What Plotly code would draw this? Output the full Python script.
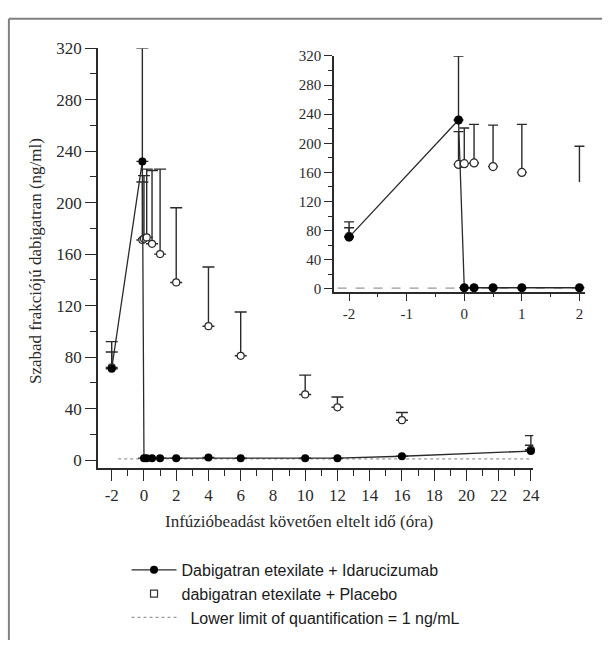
import plotly.graph_objects as go

# ---- data ----
time_h = [-2, -0.1, 0, 0.17, 0.5, 1, 2, 4, 6, 10, 12, 16, 24]
ida_mean = [71, 232, 1.5, 1.5, 1.5, 1.5, 1.5, 2, 1.5, 1.5, 1.5, 3, 7]
ida_upper = [84, 320, 1.5, 1.5, 1.5, 1.5, 1.5, 2, 1.5, 1.5, 1.5, 3, 11.5]
pla_mean = [72, 171, 172, 173, 168, 160, 138, 104, 81, 51, 41, 31, 8]
pla_upper = [92, 216, 221, 226, 225, 226, 196, 150, 115, 66, 49, 37, 19]
lloq = 1

x_ticks_main = list(range(-2, 25, 2))
y_ticks = list(range(0, 321, 40))
x_ticks_inset = [-2, -1, 0, 1, 2]

name_ida = "Dabigatran etexilate + Idarucizumab"
name_pla = "dabigatran etexilate + Placebo"
name_lloq = "\u00a0\u00a0Lower limit of quantification = 1 ng/mL"

W, H = 609, 645
INK = "#2a2a2a"
SERIF = "Liberation Serif"
SANS = "Liberation Sans"


def px_x(p):
    return p / W


def px_y(p):
    return 1 - p / H


fig = go.Figure()

# LLOQ dotted reference lines
fig.add_trace(go.Scatter(
    x=[-1.6, 24], y=[lloq, lloq], mode="lines", name=name_lloq,
    line=dict(color="#9a9a9a", width=1.3, dash="dot"), showlegend=True,
    xaxis="x", yaxis="y"))
fig.add_trace(go.Scatter(
    x=[-2.2, 2], y=[lloq, lloq], mode="lines", showlegend=False,
    line=dict(color="#9a9a9a", width=1.2, dash="dash"),
    xaxis="x2", yaxis="y2"))

# ---- main panel ----
fig.add_trace(go.Scatter(
    x=time_h, y=pla_mean, mode="markers", showlegend=False,
    xaxis="x", yaxis="y", cliponaxis=False,
    marker=dict(symbol="circle", size=7, color="white", line=dict(color=INK, width=1.2)),
    error_y=dict(type="data", symmetric=False,
                 array=[u - v for u, v in zip(pla_upper, pla_mean)],
                 arrayminus=[0] * len(time_h), color=INK, thickness=1.4, width=6)))
fig.add_trace(go.Scatter(
    x=time_h, y=ida_mean, mode="lines+markers", name=name_ida,
    xaxis="x", yaxis="y", cliponaxis=False,
    line=dict(color=INK, width=1.3),
    marker=dict(symbol="circle", size=8, color="black"),
    error_y=dict(type="data", symmetric=False,
                 array=[u - v for u, v in zip(ida_upper, ida_mean)],
                 arrayminus=[0] * len(time_h), color=INK, thickness=1.4, width=6)))

# ---- inset panel (first 2 h) ----
sel = [i for i, t in enumerate(time_h) if t <= 2]
sel_pla = [i for i, t in enumerate(time_h) if t <= 1]
i2 = time_h.index(2)
fig.add_trace(go.Scatter(
    x=[time_h[i] for i in sel_pla], y=[pla_mean[i] for i in sel_pla],
    mode="markers", showlegend=False, xaxis="x2", yaxis="y2", cliponaxis=False,
    marker=dict(symbol="circle", size=8, color="white", line=dict(color=INK, width=1.2)),
    error_y=dict(type="data", symmetric=False,
                 array=[pla_upper[i] - pla_mean[i] for i in sel_pla],
                 arrayminus=[0] * len(sel_pla), color=INK, thickness=1.4, width=5)))
fig.add_trace(go.Scatter(
    x=[time_h[i2]], y=[pla_mean[i2]], mode="markers", showlegend=False,
    xaxis="x2", yaxis="y2", cliponaxis=False,
    marker=dict(symbol="circle", size=13, color="white", line=dict(width=0)),
    error_y=dict(type="data", symmetric=False, array=[pla_upper[i2] - pla_mean[i2]],
                 arrayminus=[0], color=INK, thickness=1.4, width=5)))
fig.add_trace(go.Scatter(
    x=[time_h[i] for i in sel], y=[ida_mean[i] for i in sel],
    mode="lines+markers", showlegend=False, xaxis="x2", yaxis="y2", cliponaxis=False,
    line=dict(color=INK, width=1.3),
    marker=dict(symbol="circle", size=9, color="black"),
    error_y=dict(type="data", symmetric=False,
                 array=[ida_upper[i] - ida_mean[i] for i in sel],
                 arrayminus=[0] * len(sel), color=INK, thickness=1.4, width=5)))

# legend-only placebo entry (small open square as in the reference legend)
fig.add_trace(go.Scatter(
    x=[None], y=[None], mode="markers", name=name_pla,
    marker=dict(symbol="square-open", size=7, color="#333", line=dict(width=1.2)),
    xaxis="x", yaxis="y"))

for tr in fig.data:
    if tr.name == name_ida:
        tr.legendrank = 1
    elif tr.name == name_pla:
        tr.legendrank = 2
    elif tr.name == name_lloq:
        tr.legendrank = 3

axis_common = dict(showgrid=False, zeroline=False, showline=True,
                   linecolor=INK, linewidth=1.5, ticks="outside",
                   tickcolor=INK, tickwidth=1.4)

fig.update_layout(
    width=W, height=H, autosize=False,
    margin=dict(l=0, r=0, t=0, b=0),
    paper_bgcolor="white", plot_bgcolor="rgba(0,0,0,0)",
    xaxis=dict(domain=[px_x(99), px_x(539.5)], range=[-2.86, 24.15],
               tickvals=x_ticks_main, ticktext=[str(v) for v in x_ticks_main], ticklen=11,
               minor=dict(dtick=1, tick0=0, ticklen=6, ticks="outside", tickcolor=INK, tickwidth=1.3),
               tickfont=dict(family=SERIF, size=17, color=INK),
               anchor="y", **axis_common),
    yaxis=dict(domain=[px_y(469), px_y(40)], range=[-6, 320],
               tickvals=y_ticks, ticktext=[str(v) for v in y_ticks], ticklen=11,
               minor=dict(dtick=20, tick0=0, ticklen=6, ticks="outside", tickcolor=INK, tickwidth=1.3),
               tickfont=dict(family=SERIF, size=17, color=INK),
               anchor="x", **axis_common),
    xaxis2=dict(domain=[px_x(338), px_x(592)], range=[-2.26, 2.1],
                tickvals=x_ticks_inset, ticktext=[str(v) for v in x_ticks_inset], ticklen=8,
                minor=dict(dtick=0.5, tick0=0, ticklen=4, ticks="outside", tickcolor=INK, tickwidth=1.2),
                tickfont=dict(family=SERIF, size=15, color=INK),
                anchor="y2", **axis_common),
    yaxis2=dict(domain=[px_y(289), px_y(48)], range=[-4, 320],
                tickvals=y_ticks, ticktext=[str(v) for v in y_ticks], ticklen=8,
                minor=dict(dtick=20, tick0=0, ticklen=4, ticks="outside", tickcolor=INK, tickwidth=1.2),
                tickfont=dict(family=SERIF, size=15, color=INK),
                anchor="x2", **axis_common),
    legend=dict(x=px_x(128), y=px_y(556), xanchor="left", yanchor="top",
                bgcolor="rgba(0,0,0,0)", font=dict(family=SANS, size=16, color="#1a1a1a"),
                itemwidth=45, tracegroupgap=0),
    showlegend=True,
    annotations=[
        dict(text="Szabad frakciójú dabigatran (ng/ml)", xref="paper", yref="paper",
             x=px_x(36), y=px_y(258), xanchor="center", yanchor="middle",
             textangle=-90, showarrow=False,
             font=dict(family=SERIF, size=17, color=INK)),
        dict(text="Infúzióbeadást követően eltelt idő (óra)", xref="paper", yref="paper",
             x=px_x(302), y=px_y(524), xanchor="center", yanchor="middle", showarrow=False,
             font=dict(family=SERIF, size=17, color=INK)),
    ],
    shapes=[
        dict(type="line", xref="paper", yref="paper", x0=px_x(9), x1=1,
             y0=px_y(10), y1=px_y(10), line=dict(color="#808080", width=2)),
        dict(type="line", xref="paper", yref="paper", x0=px_x(9), x1=px_x(9),
             y0=0, y1=px_y(10), line=dict(color="#808080", width=2)),
    ],
)

fig.write_html("out.html")
